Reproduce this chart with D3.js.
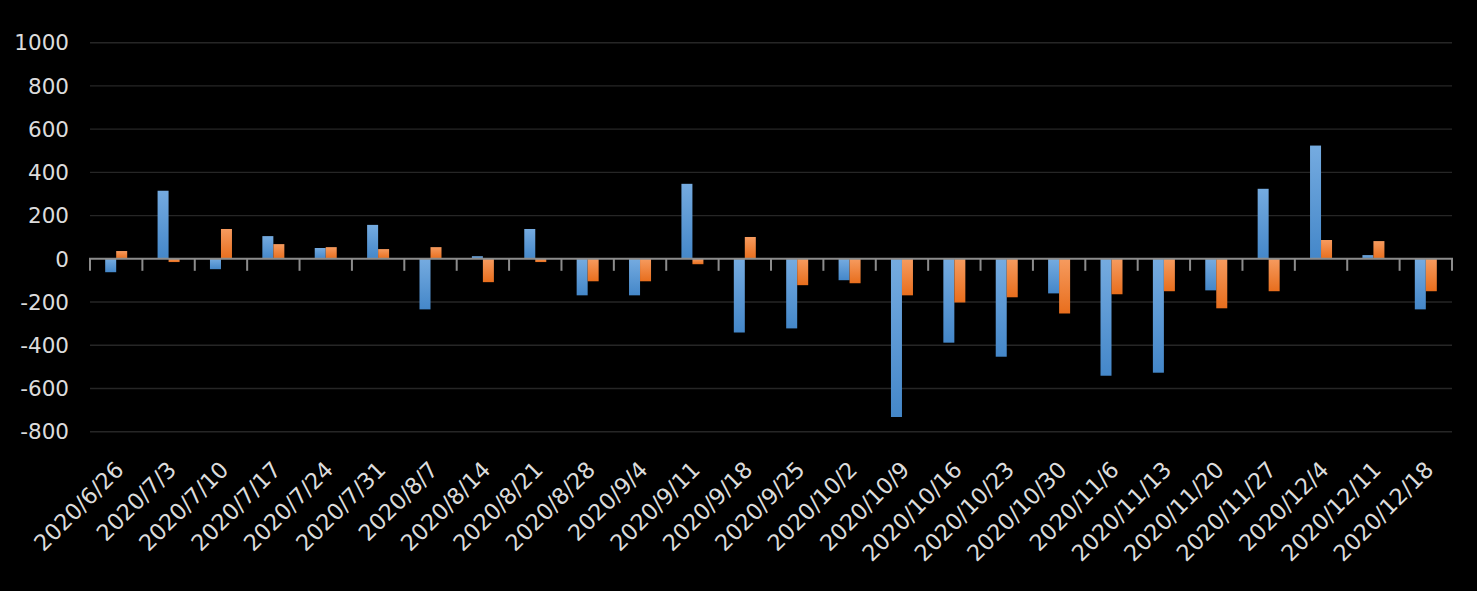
<!DOCTYPE html>
<html>
<head>
<meta charset="utf-8">
<script src="https://cdn.jsdelivr.net/npm/d3@7"></script>
<style>
  html, body { margin: 0; padding: 0; background: #000; }
  svg { display: block; }
</style>
</head>
<body>
<svg id="chart" width="1477" height="591"></svg>
<script>
const categories = ["2020/6/26","2020/7/3","2020/7/10","2020/7/17","2020/7/24","2020/7/31","2020/8/7","2020/8/14","2020/8/21","2020/8/28","2020/9/4","2020/9/11","2020/9/18","2020/9/25","2020/10/2","2020/10/9","2020/10/16","2020/10/23","2020/10/30","2020/11/6","2020/11/13","2020/11/20","2020/11/27","2020/12/4","2020/12/11","2020/12/18"];
const seriesBlue = [-62, 315, -48, 105, 50, 157, -234, 12, 138, -169, -169, 347, -341, -322, -99, -732, -388, -453, -160, -541, -527, -146, 324, 524, 17, -234];
const seriesOrange = [36, -15, 138, 68, 54, 45, 54, -108, -15, -104, -104, -25, 101, -122, -113, -169, -202, -178, -253, -164, -150, -229, -150, 87, 82, -150];
const yTicks = [1000, 800, 600, 400, 200, 0, -200, -400, -600, -800];

(function () {
const svg = d3.select("#chart");
const W = 1477, H = 591;
svg.append("rect").attr("width", W).attr("height", H).attr("fill", "#000");

const pLeft = 90, pRight = 1452, pTop = 42.7, pBottom = 431.7;
const x = d3.scaleBand().domain(categories).range([pLeft, pRight]).paddingInner(0).paddingOuter(0);
const y = d3.scaleLinear().domain([-800, 1000]).range([pBottom, pTop]);

const defs = svg.append("defs");
function grad(id, c1, c2) {
  const g = defs.append("linearGradient").attr("id", id).attr("x1", 0).attr("y1", 0).attr("x2", 0).attr("y2", 1);
  g.append("stop").attr("offset", "0%").attr("stop-color", c1);
  g.append("stop").attr("offset", "100%").attr("stop-color", c2);
}
grad("gBlue", "#75abe0", "#4487c9");
grad("gOrange", "#f69b5f", "#e86e1d");

// gridlines
svg.append("g").selectAll("line").data(yTicks.filter(d => d !== 0)).join("line")
  .attr("x1", pLeft).attr("x2", pRight)
  .attr("y1", d => y(d)).attr("y2", d => y(d))
  .attr("stroke", "#262626").attr("stroke-width", 1.4);

// y labels
svg.append("g").selectAll("text").data(yTicks).join("text")
  .attr("x", 69).attr("y", d => y(d)).attr("dy", "0.36em")
  .attr("text-anchor", "end")
  .attr("font-family", "DejaVu Sans, sans-serif").attr("font-size", 21.5)
  .attr("fill", "#dcdcdc")
  .text(d => d);

const bw = 11;
const series = [{vals: seriesBlue, fill: "url(#gBlue)", off: -bw}, {vals: seriesOrange, fill: "url(#gOrange)", off: 0}];
series.forEach(s => {
  svg.append("g").selectAll("rect").data(categories).join("rect")
    .attr("x", (c) => x(c) + x.bandwidth() / 2 + s.off)
    .attr("width", bw)
    .attr("y", (c, i) => Math.min(y(s.vals[i]), y(0)))
    .attr("height", (c, i) => Math.abs(y(s.vals[i]) - y(0)))
    .attr("fill", s.fill);
});

// zero axis line and ticks
const ax = svg.append("g").attr("stroke", "#8c8c8c").attr("stroke-width", 2);
ax.append("line").attr("x1", pLeft - 1).attr("x2", pRight + 1).attr("y1", y(0)).attr("y2", y(0));
const boundaries = categories.map(c => x(c)).concat([pRight]);
ax.selectAll("line.tk").data(boundaries).join("line").attr("class", "tk")
  .attr("x1", d => d).attr("x2", d => d)
  .attr("y1", y(0)).attr("y2", y(0) + 12);

// x labels
svg.append("g").selectAll("text").data(categories).join("text")
  .attr("transform", c => `translate(${x(c) + x.bandwidth() / 2 + 9},${471}) rotate(-45)`)
  .attr("text-anchor", "end")
  .attr("font-family", "DejaVu Sans, sans-serif").attr("font-size", 22.5)
  .attr("fill", "#dcdcdc")
  .text(c => c);
})();
</script>
</body>
</html>
